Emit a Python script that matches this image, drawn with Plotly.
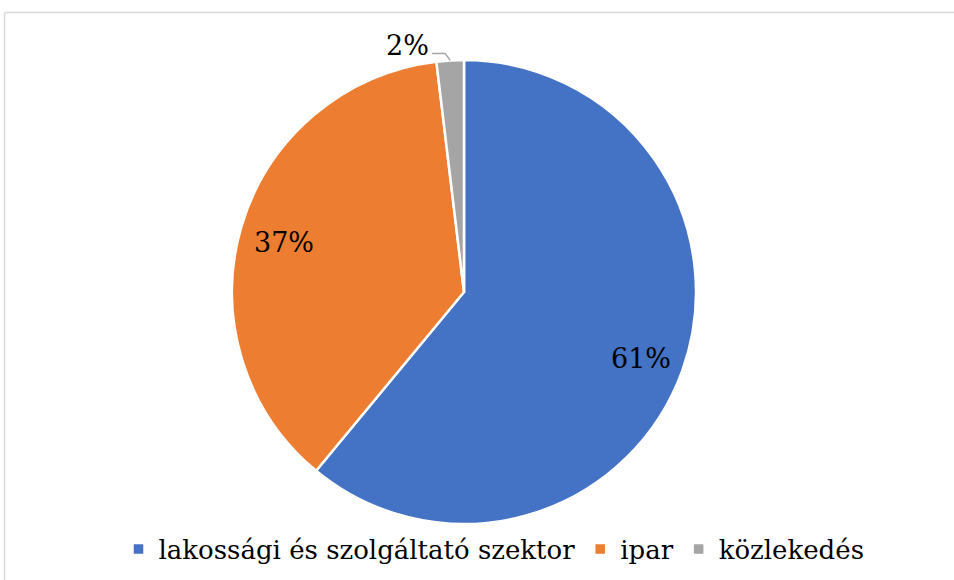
import math
import plotly.graph_objects as go

labels = ["lakossági és szolgáltató szektor", "ipar", "közlekedés"]
values = [61.0, 37.1, 1.9]
colors = ["#4472C4", "#ED7D31", "#A5A5A5"]

W, H = 954, 580
CX, CY, R = 464, 292, 232  # pie centre / radius in px
FONT = "DejaVu Serif"
LABEL_SIZE = 27
LEGEND_SIZE = 26


def px2paper(x, y):
    return x / W, 1 - y / H


fig = go.Figure()
fig.add_trace(go.Pie(
    labels=labels,
    values=values,
    marker=dict(colors=colors, line=dict(color="white", width=2.5)),
    sort=False,
    direction="clockwise",
    rotation=0,
    textinfo="none",
    hoverinfo="label+percent",
    domain=dict(x=[(CX - R) / W, (CX + R) / W], y=[1 - (CY + R) / H, 1 - (CY - R) / H]),
))

total = sum(values)
cum = 0.0
for i, v in enumerate(values):
    mid = (cum + v / 2) / total * 2 * math.pi
    cum += v
    pct = f"{round(v / total * 100)}%"
    if v / total > 0.05:
        rx = CX + 0.81 * R * math.sin(mid)
        ry = CY - 0.81 * R * math.cos(mid) + 3
        ax, ay = px2paper(rx, ry)
        fig.add_annotation(x=ax, y=ay, xref="paper", yref="paper", text=pct,
                           showarrow=False, font=dict(family=FONT, size=LABEL_SIZE, color="black"),
                           xanchor="center", yanchor="middle")
    else:
        ex = CX + R * math.sin(mid)
        ey = CY - R * math.cos(mid)
        bx, by = ex - 5, ey - 7
        sx, sy = bx - 13, by
        p = [px2paper(ex, ey), px2paper(bx, by), px2paper(sx, sy)]
        path = "M{},{} L{},{} L{},{}".format(p[0][0], p[0][1], p[1][0], p[1][1], p[2][0], p[2][1])
        fig.add_shape(type="path", path=path, xref="paper", yref="paper",
                      line=dict(color="#A5A5A5", width=1.5))
        lx, ly = px2paper(sx - 1, sy - 8)
        fig.add_annotation(x=lx, y=ly, xref="paper", yref="paper", text=pct,
                           showarrow=False, font=dict(family=FONT, size=LABEL_SIZE, color="black"),
                           xanchor="right", yanchor="middle")

# chart-area border: top and left edges (the rest falls outside the picture)
fig.add_shape(type="line", xref="paper", yref="paper",
              x0=4.5 / W, x1=1.0, y0=1 - 12.5 / H, y1=1 - 12.5 / H,
              line=dict(color="#D9D9D9", width=1.5), layer="below")
fig.add_shape(type="line", xref="paper", yref="paper",
              x0=4.5 / W, x1=4.5 / W, y0=0, y1=1 - 12.5 / H,
              line=dict(color="#D9D9D9", width=1.5), layer="below")

fig.update_layout(
    width=W, height=H,
    margin=dict(l=0, r=0, t=0, b=0),
    paper_bgcolor="white",
    plot_bgcolor="white",
    showlegend=True,
    legend=dict(orientation="h", x=494 / W, xanchor="center", y=1 - 549 / H, yanchor="middle",
                font=dict(family=FONT, size=LEGEND_SIZE, color="black"), traceorder="normal",
                bgcolor="rgba(0,0,0,0)"),
)

fig.write_html("out.html", config={"displayModeBar": False},
               post_script="document.body.style.margin='0';document.body.style.overflow='hidden';")
